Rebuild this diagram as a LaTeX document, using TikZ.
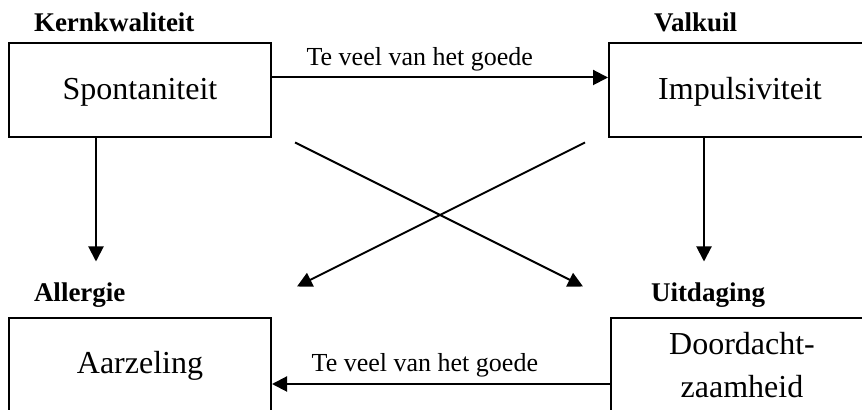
\documentclass[tikz,border=0pt]{standalone}
\usepackage{fontspec}
\setmainfont{Liberation Serif}
\usepackage{tikz}
\usetikzlibrary{arrows.meta,calc}

\begin{document}
\begin{tikzpicture}[x=0.5pt, y=-0.5pt, ->, >={Triangle[length=7.5pt,width=7.5pt]}, line width=1pt,
    kwadrant/.style={draw, -, minimum width=131pt, minimum height=47pt, align=center, font=\fontsize{16}{21.5}\selectfont},
    kop/.style={anchor=base west, inner sep=0pt, font=\fontsize{13.5}{16}\selectfont\bfseries},
    teveel/.style={inner sep=0pt, font=\fontsize{13}{15}\selectfont, yshift=6pt}]

  \useasboundingbox (0,0) rectangle (862,410);
  \clip (0,0) rectangle (862,410);

  \node[kwadrant, text depth=2pt] (kern)  at (140,90.5)  {Spontaniteit};
  \node[kwadrant, text depth=2pt] (valk)  at (740,90.5)  {Impulsiviteit};
  \node[kwadrant] (aller) at (140,365.5) {Aarzeling};
  \node[kwadrant] (uitd)  at (742,365.5) {Doordacht-\\zaamheid};

  \node[kop] (kernkop)  at ($(kern.north west)+(25,-11)$)  {Kernkwaliteit};
  \node[kop] (valkkop)  at ($(valk.north west)+(45,-11)$)  {Valkuil};
  \node[kop] (allerkop) at ($(aller.north west)+(25,-16)$) {Allergie};
  \node[kop] (uitdkop)  at ($(uitd.north west)+(40,-16)$)  {Uitdaging};

  \coordinate (kernuit)  at ($(kern.south)+(-44,0)$);
  \coordinate (allerin)  at ($(aller.north)+(-44,-56)$);
  \coordinate (valkuit)  at ($(valk.south)+(-36,0)$);
  \coordinate (uitdin)   at ($(uitd.north)+(-38,-56)$);
  \coordinate (kernkruis)  at ($(kern.south east)+(23,4)$);
  \coordinate (valkkruis)  at ($(valk.south west)+(-23,4)$);
  \coordinate (allerkruis) at ($(aller.north east)+(25,-31)$);
  \coordinate (uitdkruis)  at ($(uitd.north west)+(-27,-31)$);

  \draw ($(kern.east)+(0,-13)$) -- node[teveel, pos=0.1, anchor=base west] {Te veel van het goede} ($(valk.west)+(0,-13)$);
  \draw ($(uitd.west)+(0,18.5)$) -- node[teveel, pos=0.21, anchor=base east] {Te veel van het goede} ($(aller.east)+(0,18.5)$);

  \draw (kernuit) -- (allerin);
  \draw (valkuit) -- (uitdin);
  \draw (kernkruis) -- (uitdkruis);
  \draw (valkkruis) -- (allerkruis);
\end{tikzpicture}
\end{document}
